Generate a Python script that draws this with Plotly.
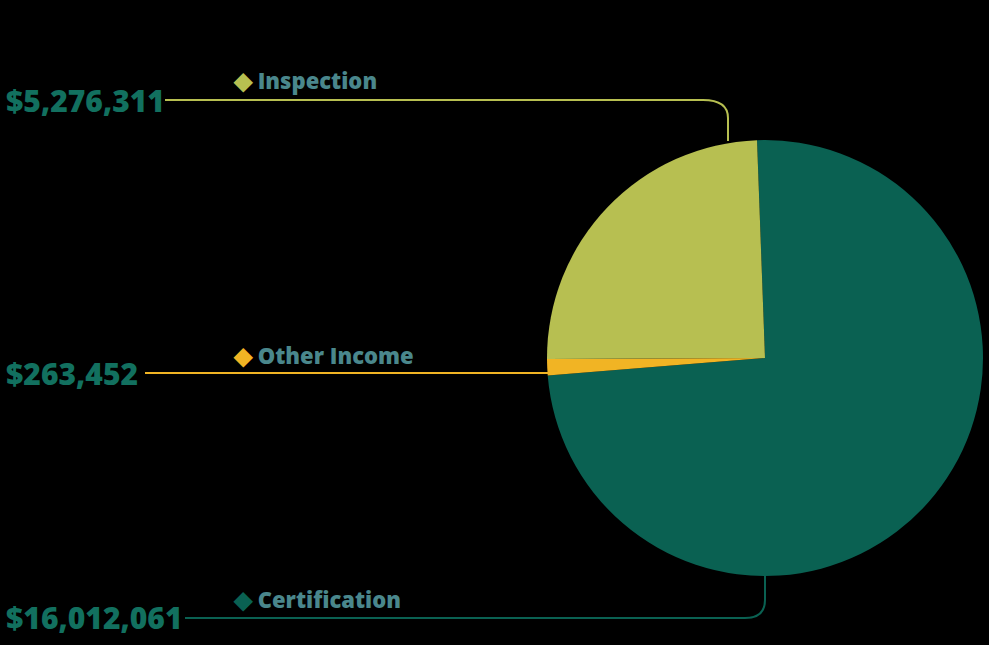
import plotly.graph_objects as go

categories = ["Certification", "Other Income", "Inspection"]
values = [16012061, 263452, 5276311]
value_labels = ["$16,012,061", "$263,452", "$5,276,311"]
colors = ["#0a6152", "#f1b424", "#b7bf51"]

W, H = 989, 645

def px(x):
    return x / W

def py(y):
    return 1 - y / H

fig = go.Figure()
fig.add_trace(go.Pie(
    labels=categories, values=values, sort=False, direction="clockwise",
    rotation=-2.1, marker=dict(colors=colors, line=dict(width=0)),
    textinfo="none", hoverinfo="label+value", showlegend=False,
    domain=dict(x=[px(547), px(983)], y=[py(576), py(140)]),
))

# layout positions (pixels) for each category: value text, label, connector
label_layout = {
    "Inspection": dict(vx=4, vy=100, lx=231, ly=79,
                       path=[(165, 100), (703, 100), "C", (728, 100), (728, 118), (728, 125), (728, 141)]),
    "Other Income": dict(vx=4, vy=373, lx=231, ly=354,
                         path=[(145, 373), (550, 373)]),
    "Certification": dict(vx=4, vy=617, lx=231, ly=598,
                          path=[(185, 618), (745, 618), "C", (765, 618), (765, 600), (765, 592), (765, 576)]),
}

shapes = []
annotations = []
for cat, val_label, col in zip(categories, value_labels, colors):
    L = label_layout[cat]
    pts = L["path"]
    d = f"M {px(pts[0][0])},{py(pts[0][1])} L {px(pts[1][0])},{py(pts[1][1])}"
    if len(pts) > 2:
        c1, c2, c3, end = pts[3], pts[4], pts[5], pts[6]
        d += f" Q {px(c1[0])},{py(c1[1])} {px(c2[0])},{py(c2[1])}"
        d += f" L {px(end[0])},{py(end[1])}"
    shapes.append(dict(type="path", xref="paper", yref="paper", path=d,
                       line=dict(color=col, width=2)))
    annotations.append(dict(
        x=px(L["vx"]), y=py(L["vy"]), xref="paper", yref="paper",
        xanchor="left", yanchor="middle", showarrow=False, text=val_label,
        font=dict(family="Open Sans", size=30, color="#12705f", weight=800)))
    annotations.append(dict(
        x=px(L["lx"]), y=py(L["ly"]), xref="paper", yref="paper",
        xanchor="left", yanchor="middle", showarrow=False,
        text=f"<span style='color:{col};font-size:24px'>◆</span> {cat}",
        font=dict(family="Open Sans", size=22, color="#4a878c", weight=800)))

fig.update_layout(
    width=W, height=H, margin=dict(l=0, r=0, t=0, b=0),
    paper_bgcolor="#000000", plot_bgcolor="#000000",
    shapes=shapes, annotations=annotations,
)
fig.write_html("out.html", config={"displayModeBar": False},
               post_script="document.body.style.margin='0';document.body.style.overflow='hidden';")
